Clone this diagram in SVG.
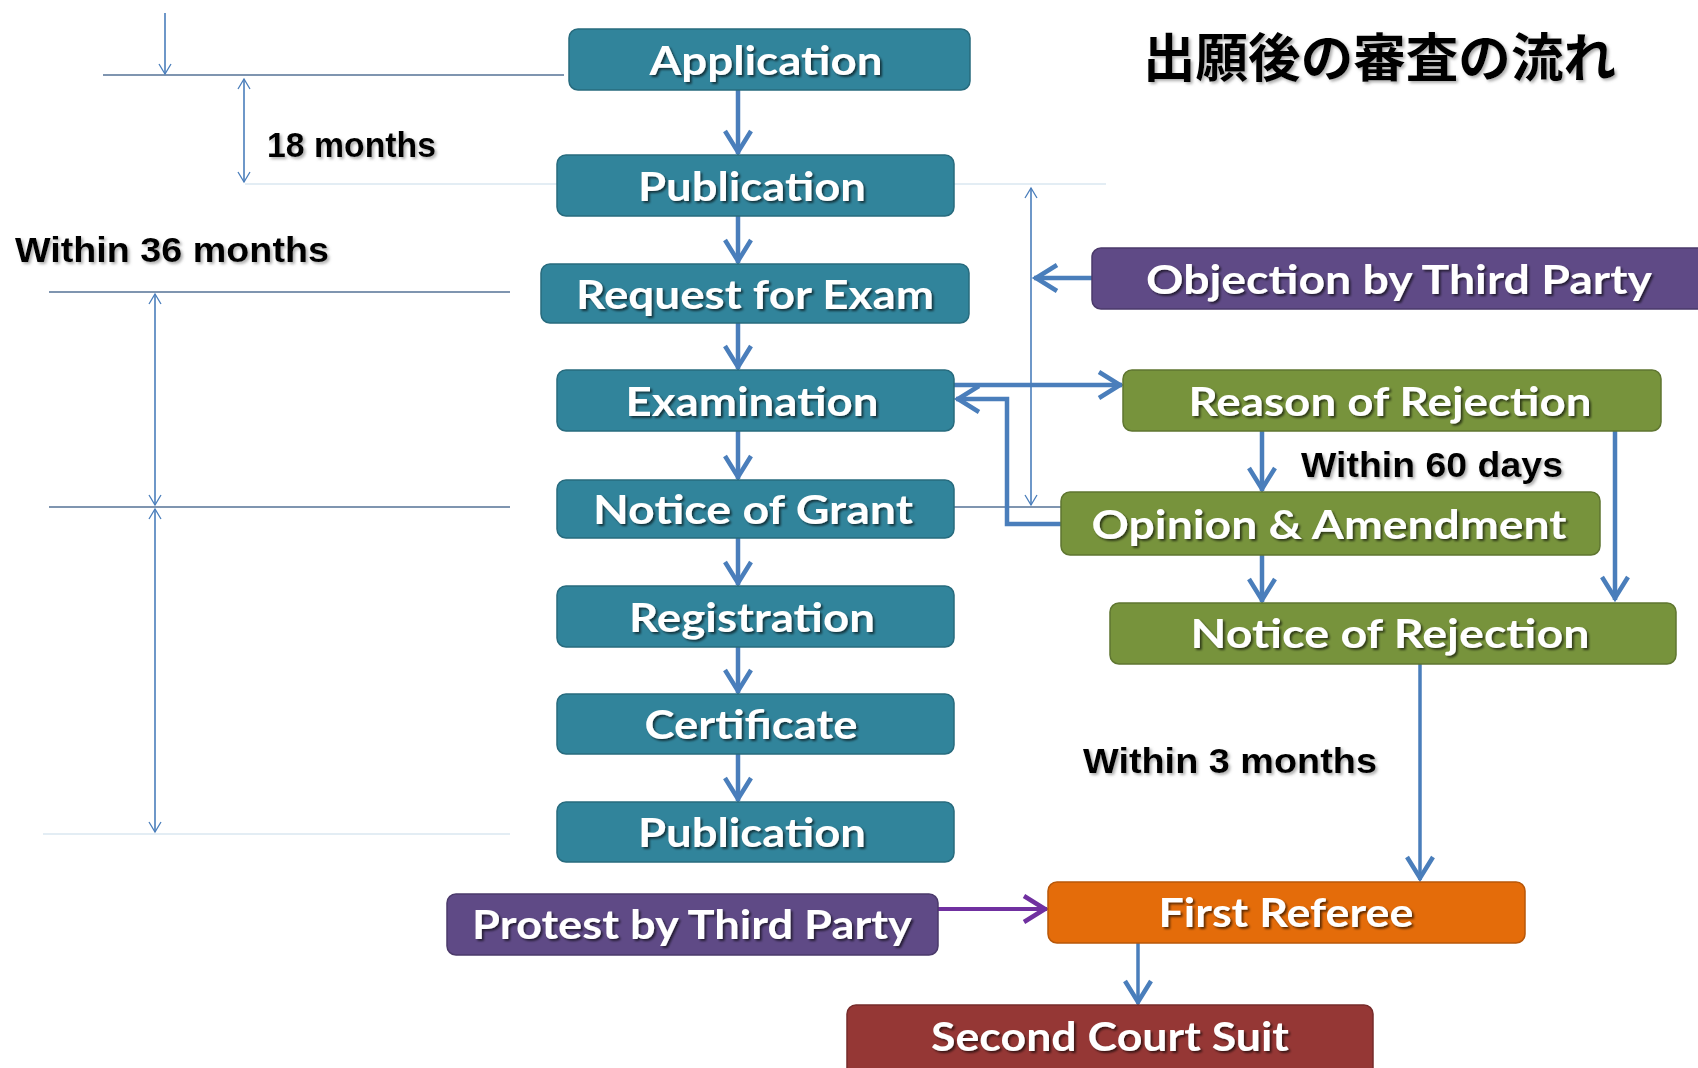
<svg xmlns="http://www.w3.org/2000/svg" width="1698" height="1068" viewBox="0 0 1698 1068">
<style>
.box{stroke-width:1.5}
.teal{fill:#31849b;stroke:#276b7e}
.purple{fill:#5f4a86;stroke:#4b3a6b}
.green{fill:#77933c;stroke:#5f7630}
.orange{fill:#e46c0a;stroke:#b85708}
.red{fill:#953735;stroke:#762b2a}
.lbl{font-family:Lato,"Open Sans",sans-serif;font-weight:bold;font-size:40px;fill:#fff;text-anchor:middle;filter:url(#sh)}
.note{font-family:"Liberation Sans",Arial,sans-serif;font-weight:bold;font-size:35px;fill:#000;filter:url(#sh2)}
.thick{fill:none;stroke:#4a7ebb;stroke-width:4.5;marker-end:url(#ah)}
.mid{fill:none;stroke:#4a7ebb;stroke-width:3.5;marker-end:url(#ah)}
.thin{fill:none;stroke:#4a7ebb;stroke-width:1.6}
.ref{fill:none;stroke:#7f95b0;stroke-width:2}
.faint{fill:none;stroke:#e3edf4;stroke-width:2}
</style>
<defs>
<filter id="sh" x="-10%" y="-30%" width="120%" height="160%">
<feDropShadow dx="2" dy="2" stdDeviation="1" flood-color="#000" flood-opacity="0.6"/>
</filter>
<filter id="sh2" x="-10%" y="-30%" width="120%" height="160%">
<feDropShadow dx="2" dy="2" stdDeviation="1.5" flood-color="#777" flood-opacity="0.6"/>
</filter>
<marker id="ah" viewBox="-26 -16 30 32" refX="0" refY="0" markerWidth="30" markerHeight="32" markerUnits="userSpaceOnUse" orient="auto" overflow="visible">
<path d="M-23,-13 L-2,0 L-23,13" fill="none" stroke="#4a7ebb" stroke-width="4.5"/>
</marker>
<marker id="ap" viewBox="-26 -16 30 32" refX="0" refY="0" markerWidth="30" markerHeight="32" markerUnits="userSpaceOnUse" orient="auto" overflow="visible">
<path d="M-23,-13 L-2,0 L-23,13" fill="none" stroke="#7030a0" stroke-width="4.5"/>
</marker>
<marker id="at" viewBox="-12 -8 14 16" refX="0" refY="0" markerWidth="14" markerHeight="16" markerUnits="userSpaceOnUse" orient="auto-start-reverse" overflow="visible">
<path d="M-10,-6 L0,0 L-10,6" fill="none" stroke="#4a7ebb" stroke-width="1.3"/>
</marker>
</defs>
<rect width="1698" height="1068" fill="#fff"/>

<g id="guides">
<line class="faint" x1="245" y1="184" x2="1106" y2="184"/>
<line class="faint" x1="43" y1="834" x2="510" y2="834"/>
<line class="ref" x1="103" y1="75" x2="564" y2="75"/>
<line class="ref" x1="49" y1="292" x2="510" y2="292"/>
<line class="ref" x1="49" y1="507" x2="510" y2="507"/>
<line class="ref" x1="954" y1="507" x2="1062" y2="507"/>
<line class="thin" x1="165" y1="13" x2="165" y2="74" marker-end="url(#at)"/>
<line class="thin" x1="244" y1="79" x2="244" y2="182" marker-start="url(#at)" marker-end="url(#at)"/>
<line class="thin" x1="155" y1="294" x2="155" y2="505" marker-start="url(#at)" marker-end="url(#at)"/>
<line class="thin" x1="155" y1="509" x2="155" y2="832" marker-start="url(#at)" marker-end="url(#at)"/>
<line class="thin" x1="1031" y1="188" x2="1031" y2="505" marker-start="url(#at)" marker-end="url(#at)"/>
</g>

<g id="connectors">
<line class="thick" x1="738" y1="90" x2="738" y2="154"/>
<line class="thick" x1="738" y1="216" x2="738" y2="263"/>
<line class="thick" x1="738" y1="323" x2="738" y2="369"/>
<line class="thick" x1="738" y1="431" x2="738" y2="479"/>
<line class="thick" x1="738" y1="538" x2="738" y2="585"/>
<line class="thick" x1="738" y1="647" x2="738" y2="693"/>
<line class="thick" x1="738" y1="754" x2="738" y2="801"/>
<line class="thick" x1="1092" y1="278" x2="1034" y2="278"/>
<line class="thick" x1="954" y1="385" x2="1122" y2="385"/>
<polyline class="thick" points="1061,524 1007,524 1007,399 956,399"/>
<line class="thick" x1="1262" y1="431" x2="1262" y2="491"/>
<line class="thick" x1="1262" y1="555" x2="1262" y2="602"/>
<line class="thick" x1="1615" y1="431" x2="1615" y2="600"/>
<line class="mid" x1="1420" y1="664" x2="1420" y2="880"/>
<line class="mid" x1="1138" y1="943" x2="1138" y2="1004"/>
<line x1="905" y1="909" x2="1047" y2="909" fill="none" stroke="#7030a0" stroke-width="4" marker-end="url(#ap)"/>
</g>

<g id="n-application"><rect class="box teal" x="569" y="29" width="401" height="61" rx="9"/><text class="lbl" x="766" y="75" textLength="233" lengthAdjust="spacingAndGlyphs">Application</text></g>
<g id="n-publication1"><rect class="box teal" x="557" y="155" width="397" height="61" rx="9"/><text class="lbl" x="752" y="201" textLength="228" lengthAdjust="spacingAndGlyphs">Publication</text></g>
<g id="n-request"><rect class="box teal" x="541" y="264" width="428" height="59" rx="9"/><text class="lbl" x="755" y="309" textLength="358" lengthAdjust="spacingAndGlyphs">Request for Exam</text></g>
<g id="n-examination"><rect class="box teal" x="557" y="370" width="397" height="61" rx="9"/><text class="lbl" x="752" y="416" textLength="253" lengthAdjust="spacingAndGlyphs">Examination</text></g>
<g id="n-grant"><rect class="box teal" x="557" y="480" width="397" height="58" rx="9"/><text class="lbl" x="753" y="524" textLength="320" lengthAdjust="spacingAndGlyphs">Notice  of Grant</text></g>
<g id="n-registration"><rect class="box teal" x="557" y="586" width="397" height="61" rx="9"/><text class="lbl" x="752" y="632" textLength="246" lengthAdjust="spacingAndGlyphs">Registration</text></g>
<g id="n-certificate"><rect class="box teal" x="557" y="694" width="397" height="60" rx="9"/><text class="lbl" x="751" y="739" textLength="213" lengthAdjust="spacingAndGlyphs">Certificate</text></g>
<g id="n-publication2"><rect class="box teal" x="557" y="802" width="397" height="60" rx="9"/><text class="lbl" x="752" y="847" textLength="228" lengthAdjust="spacingAndGlyphs">Publication</text></g>
<g id="n-protest"><rect class="box purple" x="447" y="894" width="491" height="61" rx="9"/><text class="lbl" x="692" y="939" textLength="440" lengthAdjust="spacingAndGlyphs">Protest by Third Party</text></g>
<g id="n-first"><rect class="box orange" x="1048" y="882" width="477" height="61" rx="9"/><text class="lbl" x="1286" y="927" textLength="255" lengthAdjust="spacingAndGlyphs">First Referee</text></g>
<g id="n-second"><rect class="box red" x="847" y="1005" width="526" height="80" rx="9"/><text class="lbl" x="1110" y="1051" textLength="358" lengthAdjust="spacingAndGlyphs">Second Court Suit</text></g>
<g id="n-objection"><rect class="box purple" x="1092" y="248" width="630" height="61" rx="9"/><text class="lbl" x="1399" y="294" textLength="506" lengthAdjust="spacingAndGlyphs">Objection  by Third Party</text></g>
<g id="n-reason"><rect class="box green" x="1123" y="370" width="538" height="61" rx="9"/><text class="lbl" x="1390" y="416" textLength="403" lengthAdjust="spacingAndGlyphs">Reason of Rejection</text></g>
<g id="n-opinion"><rect class="box green" x="1061" y="492" width="539" height="63" rx="9"/><text class="lbl" x="1329" y="539" textLength="475" lengthAdjust="spacingAndGlyphs">Opinion &amp; Amendment</text></g>
<g id="n-notice-rej"><rect class="box green" x="1110" y="603" width="566" height="61" rx="9"/><text class="lbl" x="1390" y="648" textLength="399" lengthAdjust="spacingAndGlyphs">Notice of  Rejection</text></g>

<g id="labels">
<text class="note" x="267" y="157" textLength="169" lengthAdjust="spacingAndGlyphs">18 months</text>
<text class="note" x="15" y="262" textLength="314" lengthAdjust="spacingAndGlyphs">Within 36 months</text>
<text class="note" x="1301" y="477" textLength="262" lengthAdjust="spacingAndGlyphs">Within 60 days</text>
<text class="note" x="1083" y="773" textLength="294" lengthAdjust="spacingAndGlyphs">Within 3 months</text>
<text x="1143" y="77" font-family="'Noto Sans CJK JP','Noto Sans CJK SC',sans-serif" font-weight="bold" font-size="52" fill="#000" textLength="473" lengthAdjust="spacingAndGlyphs" filter="url(#sh2)">出願後の審査の流れ</text>
</g>
</svg>
